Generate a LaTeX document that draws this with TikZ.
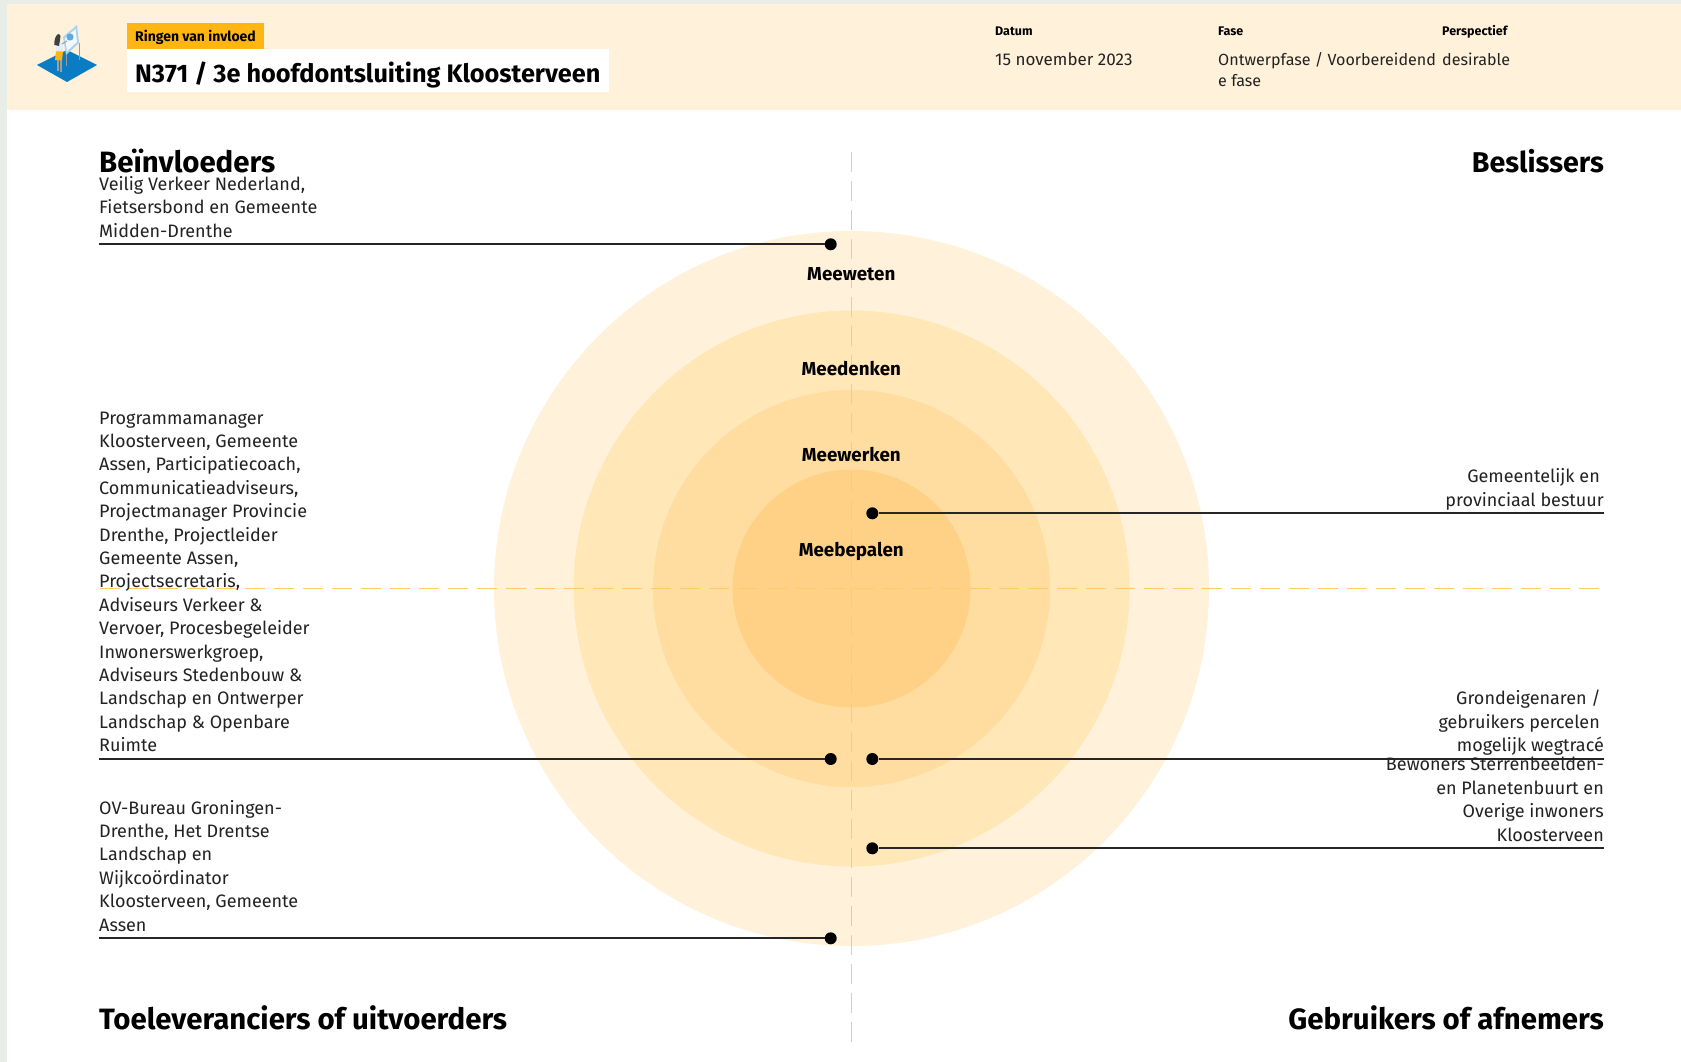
\documentclass[tikz,border=0pt]{standalone}
\usepackage{fontspec}
\setmainfont{Fira Sans}
\usetikzlibrary{positioning}
\definecolor{bannerfill}{HTML}{FFF1DA}
\definecolor{tagfill}{HTML}{FFB612}
\definecolor{ringone}{HTML}{FFF1DA}
\definecolor{ringtwo}{HTML}{FFE7B8}
\definecolor{ringthree}{HTML}{FFDCA0}
\definecolor{ringfour}{HTML}{FFD186}
\definecolor{axisline}{HTML}{FFCB66}
\definecolor{mapstrip}{HTML}{E9EDE8}
\definecolor{tileblue}{HTML}{0A7CC4}
\definecolor{boardblue}{HTML}{A9D3F0}
\definecolor{inktext}{HTML}{222222}
\tikzset{
  leader/.style={line width=1.8,black!85},
  dot/.style={circle,fill=black,inner sep=0,minimum size=12},
  axis/.style={line width=1,axisline,dash pattern=on 20 off 9},
  bodyleft/.style={inner sep=0,anchor=south west,align=left,text=inktext,font=\fontsize{18}{23.4}\selectfont},
  bodyright/.style={inner sep=0,anchor=south east,align=right,text=inktext,font=\fontsize{18}{23.4}\selectfont},
  heading/.style={inner sep=0,font=\fontsize{29.4}{31}\selectfont\bfseries},
  ringlabel/.style={inner sep=0,anchor=base,font=\fontsize{18.8}{20}\selectfont\bfseries},
  metahead/.style={inner sep=0,anchor=base west,font=\fontsize{12.5}{14}\selectfont\bfseries},
  metatext/.style={inner sep=0,anchor=base west,text=inktext,font=\fontsize{17}{21}\selectfont},
  metasmall/.style={metatext,font=\fontsize{16.1}{21}\selectfont}
}

\begin{document}
\begin{tikzpicture}[x=1pt,y=-1pt]
  \useasboundingbox (0,0) rectangle (1681,1062);

  % Page and banner
  \fill[mapstrip] (0,0) rectangle (1681,1062);
  \fill[white] (7,4) rectangle (1681,1062);
  \fill[bannerfill] (7,4) rectangle (1681,110);
  \fill[tagfill] (126.5,23.5) rectangle (264,49);
  \fill[white] (126.5,49) rectangle (609,92);

  % Logo
  \fill[tileblue] (37,65) -- (67,50) -- (97,65) -- (67,82) -- cycle;
  \draw[gray!80,line width=0.6] (66,55) -- (66,66);
  \draw[gray!80,line width=0.6] (79,43) -- (79,60);
  \fill[boardblue] (63,37) -- (77,25) -- (79,43) -- (66,55) -- cycle;
  \fill[white!85!boardblue] (65,38) -- (75.5,29) -- (77,42) -- (67,51) -- cycle;
  \fill[tileblue!65] (70,37) circle (3.6);
  \fill[gray!75] (57,58) rectangle (59,71);
  \fill[gray!75] (60,58) rectangle (62,72);
  \fill[white!88!tileblue] (56,42) rectangle (63,52);
  \fill[tagfill] (56,51.5) -- (63,51.5) -- (62,60.5) -- (55,60) -- cycle;
  \draw[gray!75,line width=1] (62,44) -- (67,41);
  \fill[black!75] (58,34) .. controls (61,34) and (61,38) .. (60,40) -- (59,46) -- (54.5,45) .. controls (54,41) and (55,36) .. (58,34);

  % Banner texts
  \node[inner sep=0,anchor=west,font=\fontsize{14}{16}\selectfont\bfseries] (tag) at (135,37.5) {Ringen van invloed};
  \node[inner sep=0,anchor=west,font=\fontsize{25.3}{28}\selectfont\bfseries] (title) at (135,74.5) {N371 / 3e hoofdontsluiting Kloosterveen};
  \node[metahead] (datumhead) at (995,35.5) {Datum};
  \node[metahead] (fasehead) at (1218,35.5) {Fase};
  \node[metahead] (perspectiefhead) at (1442,35.5) {Perspectief};
  \node[metatext] (datumtext) at (995,66) {15 november 2023};
  \node[metasmall] (fasetext) at (1218,65.5) {Ontwerpfase / Voorbereidend};
  \node[metasmall] (fasetexttwo) at (1218,86.5) {e fase};
  \node[metasmall] (perspectieftext) at (1442,65.5) {desirable};

  % Rings
  \coordinate (centre) at (851.5,588.5);
  \fill[ringone] (centre) circle (357.5);
  \fill[ringtwo] (centre) circle (278);
  \fill[ringthree] (centre) circle (198.5);
  \fill[ringfour] (centre) circle (119);

  % Axes
  \draw[axis] (851.3,152) -- (851.3,1043);
  \draw[axis] (1599,588.5) -- (96,588.5);

  \node[ringlabel] (meeweten) at (851.3,280) {Meeweten};
  \node[ringlabel] (meedenken) at (851.3,375) {Meedenken};
  \node[ringlabel] (meewerken) at (851.3,461.5) {Meewerken};
  \node[ringlabel] (meebepalen) at (851.3,556.5) {Meebepalen};

  % Quadrant headings
  \node[heading,anchor=base west] (beinvloeders) at (99,172) {Beïnvloeders};
  \node[heading,anchor=base east,font=\fontsize{28.6}{31}\selectfont\bfseries] (beslissers) at (1604,172) {Beslissers};
  \node[heading,anchor=base west] (toeleveranciers) at (99,1029) {Toeleveranciers of uitvoerders};
  \node[heading,anchor=base east] (gebruikers) at (1604,1029) {Gebruikers of afnemers};

  % Left leaders
  \node[dot] (dotA) at (830.7,244.3) {};
  \node[dot] (dotB) at (830.7,759) {};
  \node[dot] (dotC) at (830.7,938.3) {};
  \coordinate (startA) at (99,244.3);
  \coordinate (startB) at (99,759);
  \coordinate (startC) at (99,938.3);
  \draw[leader] (startA) -- (dotA);
  \draw[leader] (startB) -- (dotB);
  \draw[leader] (startC) -- (dotC);

  % Right leaders
  \node[dot] (dotD) at (872.3,513.3) {};
  \node[dot] (dotE) at (872.3,759) {};
  \node[dot] (dotF) at (872.3,848.3) {};
  \coordinate (endD) at (1604,513.3);
  \coordinate (endE) at (1604,759);
  \coordinate (endF) at (1604,848.3);
  \draw[leader] (dotD) -- (endD);
  \draw[leader] (dotE) -- (endE);
  \draw[leader] (dotF) -- (endF);

  % Left texts
  \node[bodyleft] (textA) at (startA) {Veilig Verkeer Nederland,\\Fietsersbond en Gemeente\\Midden-Drenthe\strut};
  \node[bodyleft] (textB) at (startB) {Programmamanager\\Kloosterveen, Gemeente\\Assen, Participatiecoach,\\Communicatieadviseurs,\\Projectmanager Provincie\\Drenthe, Projectleider\\Gemeente Assen,\\Projectsecretaris,\\Adviseurs Verkeer \&\\Vervoer, Procesbegeleider\\Inwonerswerkgroep,\\Adviseurs Stedenbouw \&\\Landschap en Ontwerper\\Landschap \& Openbare\\Ruimte\strut};
  \node[bodyleft] (textC) at (startC) {OV-Bureau Groningen-\\Drenthe, Het Drentse\\Landschap en\\Wijkcoördinator\\Kloosterveen, Gemeente\\Assen\strut};

  % Right texts
  \node[bodyright] (textD) at (endD) {Gemeentelijk en\kern4pt\\provinciaal bestuur\strut};
  \node[bodyright] (textE) at (endE) {Grondeigenaren /\kern3pt\\gebruikers percelen\kern4pt\\mogelijk wegtracé\strut};
  \node[bodyright] (textF) at (endF) {Bewoners Sterrenbeelden-\\en Planetenbuurt en\\Overige inwoners\\Kloosterveen\strut};
\end{tikzpicture}
\end{document}
